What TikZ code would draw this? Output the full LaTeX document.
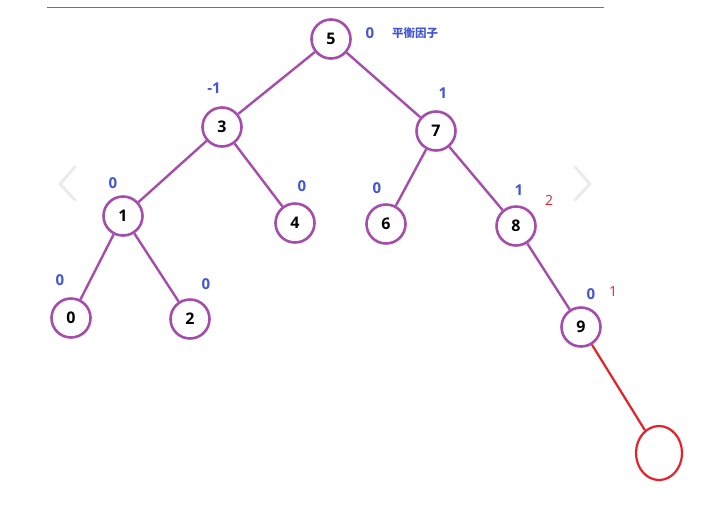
\documentclass[tikz,border=0pt]{standalone}
\usepackage{fontspec}
\setmainfont{Open Sans}
\newfontfamily\cjk{Noto Sans CJK SC}
\usetikzlibrary{shapes.geometric}
\definecolor{treepurple}{RGB}{166,76,172}
\definecolor{bfblue}{RGB}{66,85,214}
\definecolor{newred}{RGB}{232,32,42}
\tikzstyle{vertex} = [circle, minimum size=39pt, inner sep=0pt, draw=treepurple, line width=2.6pt, font=\fontsize{16}{16}\selectfont\bfseries]
\tikzstyle{newvertex} = [ellipse, minimum width=46pt, minimum height=54pt, inner sep=0pt, draw=newred, line width=2.2pt]
\tikzstyle{bf} = [text=bfblue, inner sep=0pt, font=\fontsize{15}{15}\selectfont\bfseries]
\tikzstyle{hf} = [text=newred, inner sep=0pt, font=\fontsize{14}{14}\selectfont]
\tikzstyle{edge} = [treepurple, line width=2.4pt]
\tikzstyle{chevron} = [black!8, line width=3pt, line cap=round, line join=round]

\begin{document}
\begin{tikzpicture}
\useasboundingbox (0pt,0pt) rectangle (714pt,-507pt);

% page rule and slider arrows
\draw [black!55, line width=1pt] (47pt,-7pt) -- (604pt,-7pt);
\draw [chevron] (75pt,-167pt) -- (60pt,-184pt) -- (75pt,-200pt);
\draw [chevron] (575pt,-167pt) -- (590pt,-184pt) -- (575pt,-200pt);

\node (5) [vertex] at (331pt,-39pt) {5};
\node (3) [vertex, xshift=-109pt, yshift=-88pt] at (5) {3};
\node (7) [vertex, xshift=105pt, yshift=-92pt] at (5) {7};
\node (1) [vertex, xshift=-99pt, yshift=-89pt] at (3) {1};
\node (4) [vertex, xshift=73pt, yshift=-96pt] at (3) {4};
\node (6) [vertex, xshift=-50pt, yshift=-93pt] at (7) {6};
\node (8) [vertex, xshift=80pt, yshift=-95pt] at (7) {8};
\node (0) [vertex, xshift=-52pt, yshift=-102pt] at (1) {0};
\node (2) [vertex, xshift=67pt, yshift=-103pt] at (1) {2};
\node (9) [vertex, xshift=65pt, yshift=-101pt] at (8) {9};
\node (new) [newvertex, xshift=78pt, yshift=-126pt] at (9) {};

% balance factors
\node (b5) [bf, xshift=39pt, yshift=6pt] at (5) {0};
\node (title) [bf, xshift=84pt, yshift=6pt, font=\cjk\fontsize{11.5}{11.5}\selectfont\bfseries] at (5) {平衡因子};
\node (b3) [bf, xshift=-8pt, yshift=39pt] at (3) {-1};
\node (b7) [bf, xshift=7pt, yshift=38pt] at (7) {1};
\node (b1) [bf, xshift=-10pt, yshift=33pt] at (1) {0};
\node (b4) [bf, xshift=7pt, yshift=37pt] at (4) {0};
\node (b6) [bf, xshift=-9pt, yshift=36pt] at (6) {0};
\node (b8) [bf, xshift=3pt, yshift=36pt] at (8) {1};
\node (h8) [hf, xshift=33pt, yshift=26pt] at (8) {2};
\node (b0) [bf, xshift=-11pt, yshift=38pt] at (0) {0};
\node (b2) [bf, xshift=16pt, yshift=35pt] at (2) {0};
\node (b9) [bf, xshift=10pt, yshift=33pt] at (9) {0};
\node (h9) [hf, xshift=32pt, yshift=36pt] at (9) {1};

\draw [edge] (5) -- (3);
\draw [edge] (5) -- (7);
\draw [edge] (3) -- (1);
\draw [edge] (3) -- (4);
\draw [edge] (7) -- (6);
\draw [edge] (7) -- (8);
\draw [edge] (1) -- (0);
\draw [edge] (1) -- (2);
\draw [edge] (8) -- (9);
\draw [newred, line width=2.2pt] (9) -- (new);

\end{tikzpicture}
\end{document}
